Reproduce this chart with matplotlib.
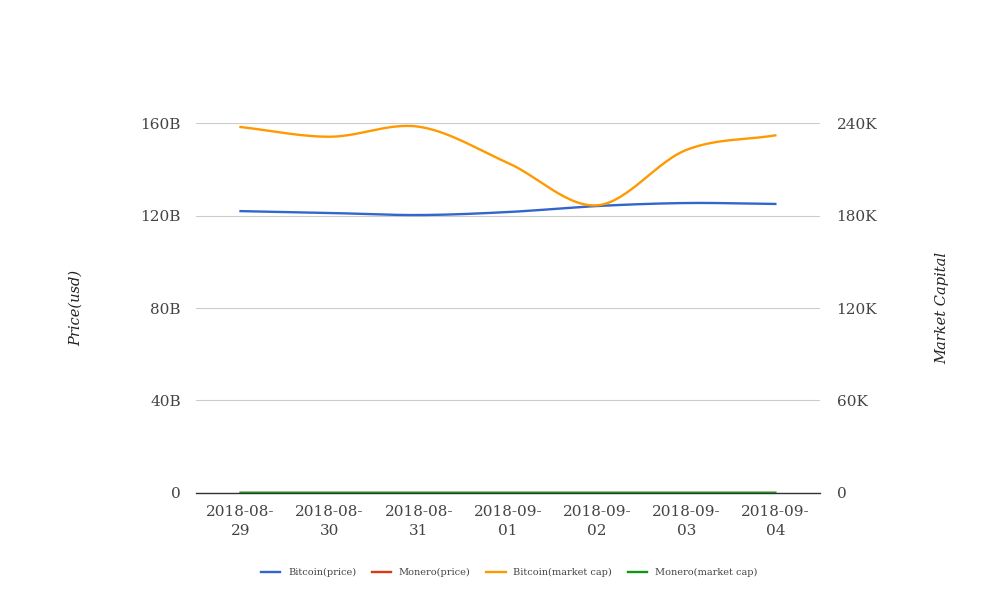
import numpy as np
import matplotlib.pyplot as plt
from matplotlib.ticker import FuncFormatter

# Data
dates = ['2018-08-\n29', '2018-08-\n30', '2018-08-\n31', '2018-09-\n01',
         '2018-09-\n02', '2018-09-\n03', '2018-09-\n04']
bitcoin_price = [121.9e9, 121.1e9, 120.2e9, 121.5e9, 124.1e9, 125.4e9, 125.0e9]   # left axis
monero_price = [118, 117, 116, 115, 113, 117, 116]                                # left axis
bitcoin_mcap = [237.4e3, 231.1e3, 237.6e3, 214.1e3, 186.6e3, 222.5e3, 232.0e3]   # right axis
monero_mcap = [120, 118, 117, 116, 114, 118, 117]                                 # right axis

colors = ['#3366cc', '#dc3912', '#ff9900', '#109618']
plt.rcParams['font.family'] = ['DejaVu Serif']


def smooth(y, n=30):
    # Catmull-Rom curve through the points, like Google's curveType 'function'
    y = np.asarray(y, dtype=float)
    p = np.concatenate([[2 * y[0] - y[1]], y, [2 * y[-1] - y[-2]]])
    xs, ys = [], []
    for i in range(len(y) - 1):
        t = np.linspace(0, 1, n, endpoint=False)
        p0, p1, p2, p3 = p[i], p[i + 1], p[i + 2], p[i + 3]
        seg = 0.5 * ((2 * p1) + (-p0 + p2) * t + (2 * p0 - 5 * p1 + 4 * p2 - p3) * t ** 2
                     + (-p0 + 3 * p1 - 3 * p2 + p3) * t ** 3)
        xs.append(i + t)
        ys.append(seg)
    xs.append([len(y) - 1])
    ys.append([y[-1]])
    return np.concatenate(xs), np.concatenate(ys)


fig = plt.figure(figsize=(10.08, 6.16), dpi=100)
ax = fig.add_axes([0.1944, 0.1997, 0.619, 0.6006])
ax2 = ax.twinx()

lines = []
xs, ys = smooth(bitcoin_price)
lines += ax.plot(xs, ys, color=colors[0], lw=1.7, label='Bitcoin(price)')
xs, ys = smooth(monero_price)
lines += ax.plot(xs, ys, color=colors[1], lw=1.7, label='Monero(price)')
xs, ys = smooth(bitcoin_mcap)
lines += ax2.plot(xs, ys, color=colors[2], lw=1.7, label='Bitcoin(market cap)')
xs, ys = smooth(monero_mcap)
lines += ax2.plot(xs, ys, color=colors[3], lw=1.7, label='Monero(market cap)')

ax.set_xlim(-0.5, len(dates) - 0.5)
ax.set_ylim(0, 160e9)
ax2.set_ylim(0, 240e3)
ax.set_yticks(np.arange(0, 161e9, 40e9))
ax2.set_yticks(np.arange(0, 241e3, 60e3))
ax.yaxis.set_major_formatter(FuncFormatter(lambda v, p: '0' if v == 0 else f'{v / 1e9:.0f}B'))
ax2.yaxis.set_major_formatter(FuncFormatter(lambda v, p: '0' if v == 0 else f'{v / 1e3:.0f}K'))
ax.set_xticks(range(len(dates)))
ax.set_xticklabels(dates, linespacing=1.45)

for a in (ax, ax2):
    for s in a.spines.values():
        s.set_visible(False)
    a.tick_params(length=0, labelsize=11, colors='#444444')
ax.tick_params(axis='y', pad=11)
ax2.tick_params(axis='y', pad=12)
ax.tick_params(axis='x', pad=9)
ax.grid(axis='y', color='#cccccc', lw=0.8)
ax.set_axisbelow(True)
ax.axhline(0, color='#333333', lw=1, zorder=1, clip_on=False)

fig.text(0.075, 0.5, 'Price(usd)', rotation=90, style='italic', fontsize=10.5,
         color='#222222', ha='center', va='center')
fig.text(0.935, 0.5, 'Market Capital', rotation=90, style='italic', fontsize=10.5,
         color='#222222', ha='center', va='center')

fig.legend(lines, [l.get_label() for l in lines], loc='center', bbox_to_anchor=(0.505, 0.07),
           ncol=4, frameon=False, fontsize=7, handlelength=2, columnspacing=1.6,
           labelcolor='#444444')

fig.savefig('out.png', dpi=100)
